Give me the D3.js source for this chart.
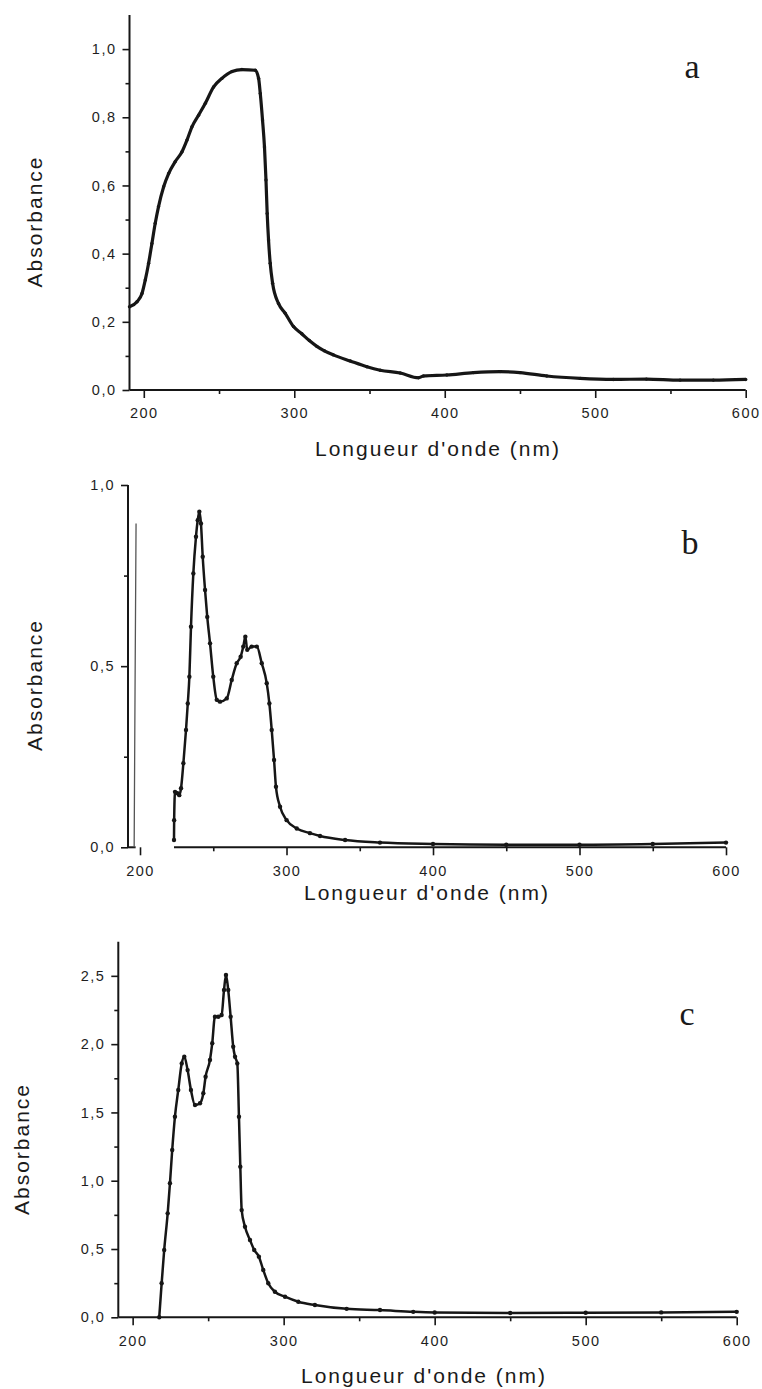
<!DOCTYPE html>
<html>
<head>
<meta charset="utf-8">
<script src="https://cdn.jsdelivr.net/npm/d3@7"></script>
<style>
  body { margin: 0; background: #fff; }
  svg { display: block; }
  .tick text { font-family: "Liberation Sans", Arial, sans-serif; font-size: 14.5px; letter-spacing: 1.5px; fill: #1e1e1e; }
  .title { font-family: "Liberation Sans", Arial, sans-serif; font-size: 21px; letter-spacing: 2px; fill: #1a1a1a; }
  .letter { font-family: "Liberation Serif", "Times New Roman", serif; font-size: 34px; fill: #1a1a1a; }
</style>
</head>
<body>
<svg width="762" height="1389"></svg>
<script>
// spectre a
const nmA = [190.5, 195.5, 198.8, 201, 203.2, 205.4, 207.6, 209.8, 213.2, 216.5, 220.9, 225.4, 228.7, 232, 236.4, 240.9, 246.4, 251.9, 258.6, 265.2, 274.1, 276.3, 277.4, 278.9, 280.2, 281.2, 282, 282.9, 284, 285.6, 289.5, 294, 299.5, 305, 310, 315, 320, 326, 337.2, 348.3, 357.1, 370.4, 382.5, 385.9, 401.4, 419.1, 436.8, 450, 467.8, 490, 512, 534, 556.4, 578.5, 600];
const absA = [0.244, 0.259, 0.283, 0.323, 0.372, 0.43, 0.489, 0.538, 0.596, 0.635, 0.67, 0.699, 0.733, 0.772, 0.806, 0.841, 0.889, 0.914, 0.934, 0.94, 0.938, 0.914, 0.87, 0.792, 0.713, 0.616, 0.518, 0.44, 0.372, 0.313, 0.254, 0.225, 0.186, 0.165, 0.145, 0.128, 0.115, 0.103, 0.085, 0.068, 0.058, 0.05, 0.036, 0.041, 0.044, 0.051, 0.054, 0.051, 0.041, 0.034, 0.031, 0.032, 0.029, 0.029, 0.031];

// spectre b
const nmB = [223.2, 223.3, 223.9, 225.5, 226.8, 228, 229.6, 231.4, 232.6, 233.7, 234.8, 236.4, 238.2, 239.4, 240.5, 241.6, 242.8, 244.4, 245.9, 247.8, 250, 252.4, 254.6, 259.2, 262.6, 266, 268.7, 270.5, 271.9, 273.2, 276.2, 279.7, 283.1, 286.5, 288.3, 289.9, 291.5, 292.8, 295.6, 300.1, 307, 316, 322.9, 340, 363.8, 400, 450, 500, 550, 600];
const absB = [0.02, 0.075, 0.153, 0.149, 0.144, 0.163, 0.232, 0.324, 0.397, 0.471, 0.609, 0.756, 0.857, 0.903, 0.926, 0.894, 0.802, 0.71, 0.636, 0.563, 0.471, 0.407, 0.402, 0.411, 0.462, 0.508, 0.526, 0.554, 0.581, 0.545, 0.554, 0.554, 0.508, 0.453, 0.397, 0.324, 0.241, 0.167, 0.112, 0.075, 0.052, 0.039, 0.031, 0.02, 0.013, 0.009, 0.007, 0.007, 0.009, 0.013];
// trait parasite vertical près de 197 nm
const nmSpike = [196, 196.6, 197.3];
const absSpike = [0.0, 0.43, 0.894];

// spectre c
const nmC = [217.6, 219.2, 220.9, 223.2, 224.7, 226.2, 228, 230.2, 232.5, 234.2, 236.4, 238.6, 241.3, 244.6, 246.8, 248.3, 251.2, 252.7, 254.5, 256.7, 258.9, 260.5, 261.8, 263.3, 264.9, 266.6, 267.8, 269.3, 270.4, 271.3, 272.2, 274.4, 277.7, 280.5, 283.6, 286.5, 289.8, 294.2, 300.9, 309.7, 320.7, 341.7, 363.8, 385.8, 400, 450, 500, 550, 600];
const absC = [0, 0.249, 0.493, 0.761, 0.981, 1.225, 1.468, 1.664, 1.859, 1.908, 1.81, 1.664, 1.554, 1.567, 1.64, 1.761, 1.884, 2.006, 2.2, 2.2, 2.213, 2.396, 2.506, 2.396, 2.2, 1.981, 1.908, 1.859, 1.468, 1.103, 0.785, 0.663, 0.566, 0.493, 0.444, 0.346, 0.249, 0.187, 0.151, 0.114, 0.09, 0.062, 0.053, 0.04, 0.035, 0.031, 0.033, 0.036, 0.04];

// graduations
const xMajor = [200, 300, 400, 500, 600];
const xMinor = [250, 350, 450, 550];
const yMajorA = [0, 0.2, 0.4, 0.6, 0.8, 1.0];
const yMinorA = [0.1, 0.3, 0.5, 0.7, 0.9];
const yMajorB = [0, 0.5, 1.0];
const yMinorB = [0.25, 0.75];
const yMajorC = [0, 0.5, 1.0, 1.5, 2.0, 2.5];
const yMinorC = [0.25, 0.75, 1.25, 1.75, 2.25];

const xTitle = "Longueur d'onde (nm)";
const yTitle = "Absorbance";

const svg = d3.select("svg");
const fmt = v => d3.format(".1f")(v).replace(".", ",");
const ink = "#161616";

function drawPanel(p) {
    const x = d3.scaleLinear().domain(p.xDomain).range(p.xRange);
    const y = d3.scaleLinear().domain(p.yDomain).range(p.yRange);
    const g = svg.append("g");

    // axe x : petites graduations puis grandes
    const xMinorAxis = g.append("g")
        .attr("transform", `translate(0,${p.yRange[0]})`)
        .call(d3.axisBottom(x).tickValues(xMinor).tickSize(4).tickFormat(""));
    const xAxis = g.append("g")
        .attr("transform", `translate(0,${p.yRange[0]})`)
        .call(d3.axisBottom(x).tickValues(xMajor).tickSize(8).tickPadding(10).tickFormat(d3.format("d")));
    xMinorAxis.select(".domain").remove();
    xAxis.select(".domain").remove();

    // ligne de base (éventuellement coupée)
    p.xSegments.forEach(s => {
        g.append("line")
            .attr("x1", x(s[0])).attr("x2", x(s[1]))
            .attr("y1", y(0)).attr("y2", y(0))
            .attr("stroke", ink).attr("stroke-width", 2);
    });

    const yMinorAxis = g.append("g")
        .attr("transform", `translate(${p.xRange[0]},0)`)
        .call(d3.axisLeft(y).tickValues(p.yMinor).tickSize(4).tickFormat(""));
    yMinorAxis.select(".domain").remove();
    const yAxis = g.append("g")
        .attr("transform", `translate(${p.xRange[0]},0)`)
        .call(d3.axisLeft(y).tickValues(p.yMajor).tickSize(7).tickPadding(6).tickFormat(fmt));
    yAxis.select(".domain").remove();
    g.append("line")
        .attr("x1", p.xRange[0]).attr("x2", p.xRange[0])
        .attr("y1", p.yRange[0]).attr("y2", p.yRange[1])
        .attr("stroke", ink).attr("stroke-width", 2);

    g.selectAll(".tick line").attr("stroke", ink).attr("stroke-width", 1.6);

    const line = d3.line()
        .x(d => x(d[0]))
        .y(d => y(d[1]))
        .curve(d3.curveMonotoneX);

    p.series.forEach(s => {
        const pts = s.nm.map((v, i) => [v, s.abs[i]]);
        g.append("path")
            .datum(pts)
            .attr("fill", "none")
            .attr("stroke", s.color || ink)
            .attr("stroke-width", s.width)
            .attr("stroke-linejoin", "round")
            .attr("d", s.straight ? d3.line().x(d => x(d[0])).y(d => y(d[1]))(pts) : line);
        if (s.dots) {
            g.selectAll(null)
                .data(pts)
                .enter().append("circle")
                .attr("cx", d => x(d[0]))
                .attr("cy", d => y(d[1]))
                .attr("r", s.dots)
                .attr("fill", ink);
        }
    });

    g.append("text")
        .attr("class", "title")
        .attr("x", p.xTitle[0]).attr("y", p.xTitle[1])
        .attr("text-anchor", "middle")
        .text(xTitle);

    g.append("text")
        .attr("class", "title")
        .attr("transform", `translate(${p.yTitle[0]},${p.yTitle[1]}) rotate(-90)`)
        .attr("text-anchor", "middle")
        .text(yTitle);

    g.append("text")
        .attr("class", "letter")
        .attr("x", p.letterPos[0]).attr("y", p.letterPos[1])
        .attr("text-anchor", "middle")
        .text(p.letter);
}

drawPanel({
    xDomain: [190.5, 600], xRange: [129.5, 745.7],
    yDomain: [0, 1.1], yRange: [390, 15],
    yMajor: yMajorA, yMinor: yMinorA,
    xSegments: [[190.5, 600]],
    series: [{ nm: nmA, abs: absA, width: 3.2, dots: 1.7 }],
    xTitle: [438, 456], yTitle: [41.5, 221.5],
    letter: "a", letterPos: [692, 78]
});

drawPanel({
    xDomain: [191.8, 600], xRange: [128, 726],
    yDomain: [0, 1], yRange: [847.3, 485],
    yMajor: yMajorB, yMinor: yMinorB,
    xSegments: [[191.8, 197], [223.2, 600]],
    series: [
        { nm: nmB, abs: absB, width: 2.5, dots: 2.2 },
        { nm: nmSpike, abs: absSpike, width: 1.3, color: "#555", straight: true }
    ],
    xTitle: [427, 900], yTitle: [42, 685],
    letter: "b", letterPos: [690, 554]
});

drawPanel({
    xDomain: [190.5, 600], xRange: [118.3, 736.7],
    yDomain: [0, 2.75], yRange: [1317.3, 941.7],
    yMajor: yMajorC, yMinor: yMinorC,
    xSegments: [[190.5, 600]],
    series: [{ nm: nmC, abs: absC, width: 2.5, dots: 2.2 }],
    xTitle: [424, 1383], yTitle: [28.5, 1149],
    letter: "c", letterPos: [687, 1025]
});
</script>
</body>
</html>
